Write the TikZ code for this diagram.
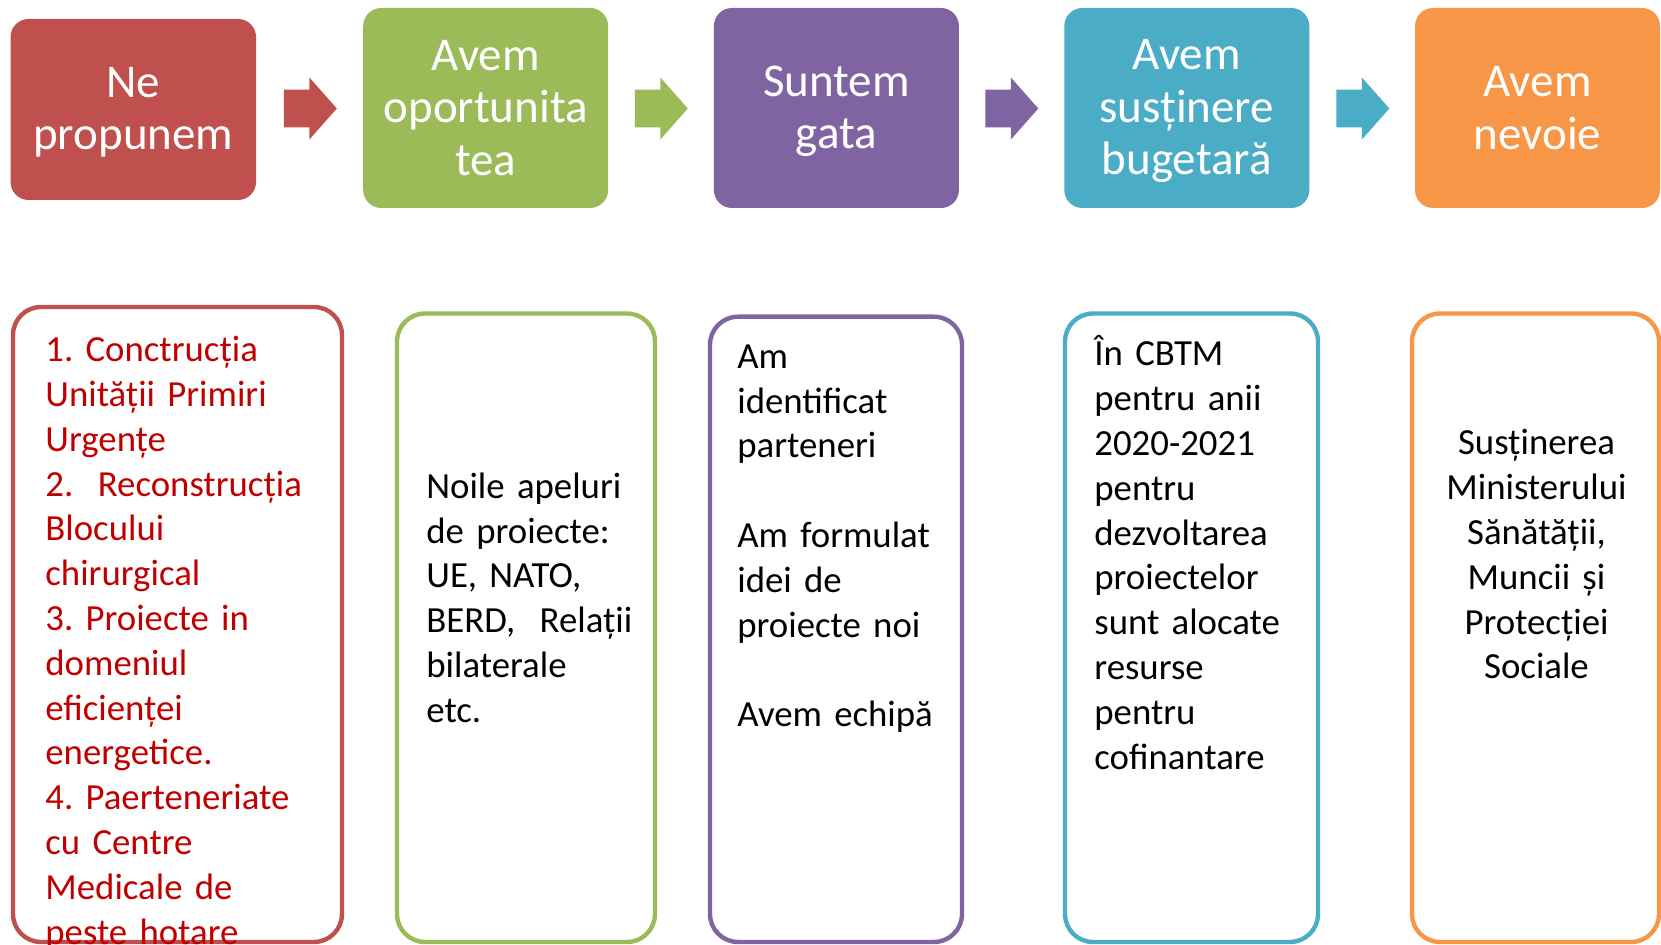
\documentclass[tikz,border=0pt]{standalone}
\usepackage{fontspec}
\setmainfont{Carlito}
\usepackage{tikz}
\usetikzlibrary{shapes.arrows}

\definecolor{cred}{HTML}{C0504D}
\definecolor{cgreen}{HTML}{9BBB59}
\definecolor{cpurple}{HTML}{8064A2}
\definecolor{cteal}{HTML}{4BACC6}
\definecolor{corange}{HTML}{F79646}
\definecolor{ctext}{HTML}{C00000}

\frenchspacing

\begin{document}
\begin{tikzpicture}[x = 0.5pt, y = -0.5pt,
	head/.style = {rounded corners = 9pt, inner sep = 0pt, text = white, align = center, minimum width = 122.5pt, minimum height = 100pt, font = \fontsize{23.5}{26.2}\selectfont},
	frame/.style = {draw, line width = 2.2pt, rounded corners = 14pt, inner sep = 0pt},
	arr/.style = {single arrow, inner xsep = 0pt, inner ysep = 9.2pt, minimum height = 26.5pt, minimum width = 30.5pt, single arrow head extend = 6.1pt, single arrow tip angle = 97},
	body/.style = {anchor = base west, align = left, inner sep = 0pt, text width = 150pt, font = \fontsize{18.4}{22.4}\selectfont}]

	\useasboundingbox (0, 0) rectangle (1661, 945);

	% top row
	\node[head, fill = cred, minimum width = 122.75pt, minimum height = 90.5pt, text depth = 1pt] (H1) at (133.3, 109.5) {Ne\\propunem};
	\node[head, fill = cgreen] (H2) at (485.7, 108) {Avem\\oportunita\\tea};
	\node[head, fill = cpurple, text depth = 1pt] (H3) at (836.4, 108) {Suntem\\gata};
	\node[head, fill = cteal, text depth = 1pt] (H4) at (1186.8, 108) {Avem\\susținere\\bugetară};
	\node[head, fill = corange] (H5) at (1537.5, 108) {Avem\\nevoie};

	\node[arr, fill = cred] (A1) at (302, 108.5) {};
	\node[arr, fill = cgreen] (A2) at (653, 108.5) {};
	\node[arr, fill = cpurple] (A3) at (1003.5, 108.5) {};
	\node[arr, fill = cteal] (A4) at (1354.5, 108.5) {};

	% bottom row
	\node[frame, draw = cred, minimum width = 164.5pt, minimum height = 317.5pt] (B1) at (177.5, 624.5) {};
	\node[frame, draw = cgreen, minimum width = 129pt, minimum height = 314.25pt] (B2) at (526, 627.75) {};
	\node[frame, draw = cpurple, minimum width = 126pt, minimum height = 312.65pt] (B3) at (836, 629.35) {};
	\node[frame, draw = cteal, minimum width = 126.5pt, minimum height = 314.25pt] (B4) at (1191.5, 627.75) {};
	\node[frame, draw = corange, minimum width = 123.5pt, minimum height = 314.25pt] (B5) at (1535.5, 627.75) {};

	\node[body, text = ctext] (T1) at (45, 361.7) {1. Conctrucția\\Unității Primiri\\Urgențe\\2.~ Reconstrucția\\Blocului\\chirurgical\\3. Proiecte in\\domeniul\\eficienței\\energetice.\\4. Paerteneriate\\cu Centre\\Medicale de\\peste hotare};
	\node[body] (T2) at (426, 498.3) {Noile apeluri\\de proiecte:\\UE, NATO,\\BERD,~ Relații\\bilaterale\\etc.};
	\node[body] (T3) at (737, 368.3) {Am\\identificat\\parteneri\\[22.4pt]Am formulat\\idei de\\proiecte noi\\[22.4pt]Avem echipă};
	\node[body] (T4) at (1094, 366) {În CBTM\\pentru anii\\2020-2021\\pentru\\dezvoltarea\\proiectelor\\sunt alocate\\resurse\\pentru\\cofinantare};
	\node[body, anchor = base, align = center, text width = 120pt] (T5) at (1536.5, 455) {Susținerea\\Ministerului\\Sănătății,\\Muncii și\\Protecției\\Sociale};

\end{tikzpicture}
\end{document}
